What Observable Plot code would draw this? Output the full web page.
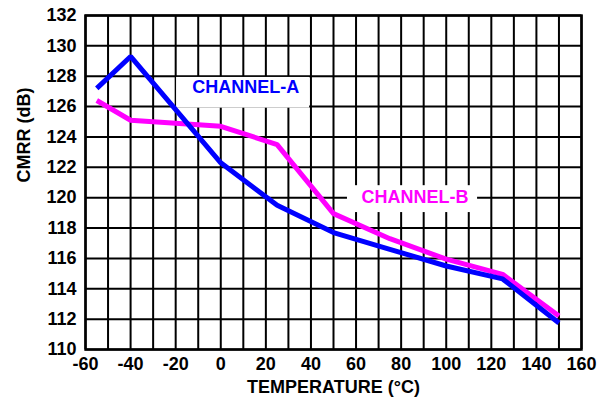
<!DOCTYPE html>
<html>
<head>
<meta charset="utf-8">
<script src="https://cdn.jsdelivr.net/npm/d3@7"></script>
<script src="https://cdn.jsdelivr.net/npm/@observablehq/plot@0.6"></script>
<style>
  html, body { margin: 0; padding: 0; background: #fff; }
  #chart svg { font-family: "Liberation Sans", Arial, sans-serif; font-weight: bold; }
</style>
</head>
<body>
<div id="chart"></div>
<script>
// CMRR vs temperature, two channels
const temps = [-55, -40, 0, 25, 50, 75, 100, 125, 150];
const channelA = [127.2, 129.3, 122.3, 119.5, 117.7, 116.6, 115.5, 114.65, 111.75];
const channelB = [126.4, 125.1, 124.7, 123.5, 118.95, 117.3, 115.95, 114.95, 112.2];

const xTicks = [-60, -40, -20, 0, 20, 40, 60, 80, 100, 120, 140, 160];
const yTicks = [110, 112, 114, 116, 118, 120, 122, 124, 126, 128, 130, 132];
const xGrid = d3.range(-60, 161, 10);

// Series labels with their white backing boxes (data coordinates)
const labelNames = ["CHANNEL-A", "CHANNEL-B"];
const labelX = [11.1, 86.2];
const labelY = [127.25, 120.0];
const boxX1 = [-19.6, 56.2];
const boxX2 = [39.4, 113.9];
const boxY1 = [127.92, 120.79];
const boxY2 = [125.9, 119.02];

const colors = {"CHANNEL-A": "#0000ff", "CHANNEL-B": "#ff00ff"};

const rows = [];
temps.forEach((t, i) => {
  rows.push({t, v: channelA[i], ch: "CHANNEL-A"});
  rows.push({t, v: channelB[i], ch: "CHANNEL-B"});
});
const labels = labelNames.map((name, i) => ({
  name, x: labelX[i], y: labelY[i],
  x1: boxX1[i], x2: boxX2[i], y1: boxY1[i], y2: boxY2[i]
}));

const chart = Plot.plot({
  width: 613,
  height: 399,
  marginLeft: 85,
  marginRight: 32,
  marginTop: 15,
  marginBottom: 50,
  x: {domain: [-60, 160]},
  y: {domain: [110, 132]},
  marks: [
    Plot.ruleX(xGrid, {stroke: "#000", strokeWidth: 2}),
    Plot.ruleY(yTicks, {stroke: "#000", strokeWidth: 2}),
    Plot.rect(labels, {x1: "x1", x2: "x2", y1: "y1", y2: "y2", fill: "#fff"}),
    Plot.text(labels, {x: "x", y: "y", text: "name", fill: d => colors[d.name],
      fontSize: 18, fontWeight: "bold"}),
    Plot.line(rows.filter(d => d.ch === "CHANNEL-B"), {x: "t", y: "v", stroke: colors["CHANNEL-B"],
      strokeWidth: 5, strokeLinejoin: "miter", strokeLinecap: "butt"}),
    Plot.line(rows.filter(d => d.ch === "CHANNEL-A"), {x: "t", y: "v", stroke: colors["CHANNEL-A"],
      strokeWidth: 5, strokeLinejoin: "miter", strokeLinecap: "butt"}),
    Plot.frame({stroke: "#000", strokeWidth: 2.5}),
    Plot.axisX(xTicks, {tickSize: 0, tickPadding: 8, fontSize: 18, fontWeight: "bold",
      fill: "#000", label: null, tickFormat: d => String(d)}),
    Plot.axisY(yTicks, {tickSize: 0, tickPadding: 9, fontSize: 18, fontWeight: "bold",
      fill: "#000", label: null, tickFormat: d => String(d)}),
    Plot.text(["TEMPERATURE (°C)"], {frameAnchor: "bottom", dy: 38, fontSize: 18,
      fontWeight: "bold", fill: "#000", lineAnchor: "middle"}),
    Plot.text(["CMRR (dB)"], {frameAnchor: "left", dx: -61, rotate: -90, fontSize: 18,
      fontWeight: "bold", fill: "#000", lineAnchor: "middle"})
  ]
});
document.getElementById("chart").appendChild(chart);
</script>
</body>
</html>
